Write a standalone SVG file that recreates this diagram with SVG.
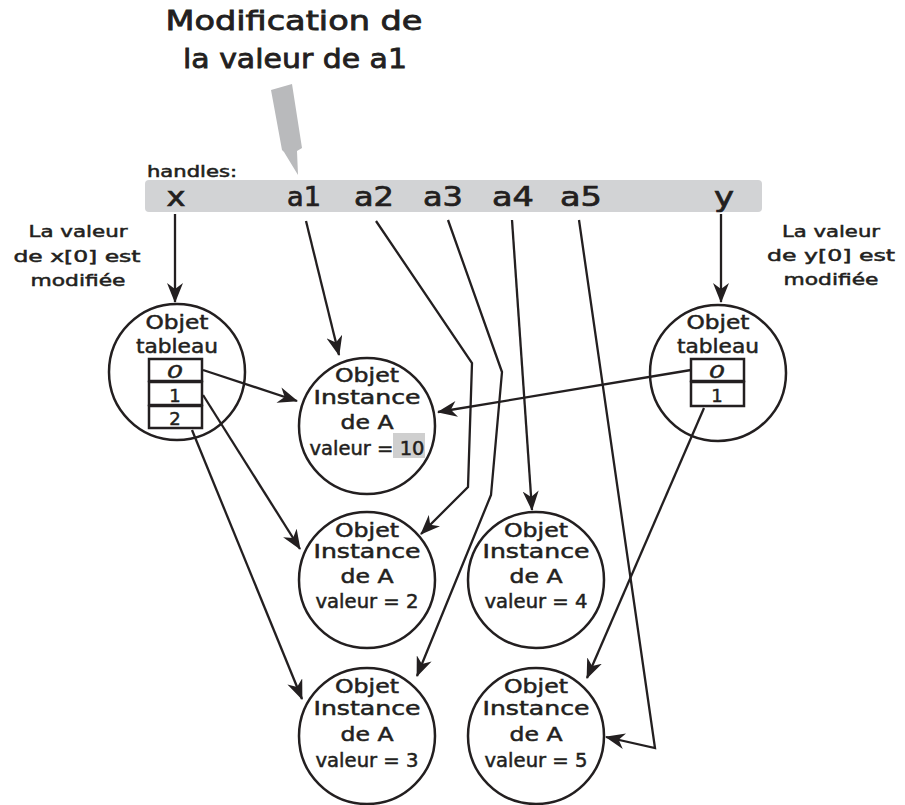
<svg xmlns="http://www.w3.org/2000/svg" width="905" height="805" viewBox="0 0 905 805">
<style>
.t{font-family:"DejaVu Sans","Liberation Sans",sans-serif;fill:#231f20;text-anchor:middle;stroke:#231f20;stroke-width:0.5}
.n{font-size:19px}
.s{font-size:16px}
.h{font-size:26px;stroke-width:0.7}
.ti{font-size:26px;stroke-width:0.8}
.d{font-size:18px}
.c{fill:#fff;stroke:#231f20;stroke-width:2.5}
.cell{fill:#fff;stroke:#231f20;stroke-width:2.5}
.e{fill:none;stroke:#231f20;stroke-width:2.3;stroke-linejoin:miter}
</style>
<defs>
<marker id="ah" viewBox="0 0 20 16" refX="19" refY="8" markerWidth="20" markerHeight="16" markerUnits="userSpaceOnUse" orient="auto">
<path d="M0,0 L20,8 L0,16 L6,8 z" fill="#231f20"/>
</marker>
</defs>
<rect width="905" height="805" fill="#fff"/>

<g id="title">
<text class="t ti" x="294" y="30" textLength="257" lengthAdjust="spacingAndGlyphs">Modification de</text>
<text class="t ti" x="295" y="68" textLength="224" lengthAdjust="spacingAndGlyphs">la valeur de a1</text>
<polygon points="271,90 292,84 302,148 297,151 298,175 284,152 282,150" fill="#b9babc"/>
</g>

<g id="handles">
<text class="t" x="147" y="177" font-size="15" style="text-anchor:start" textLength="90" lengthAdjust="spacingAndGlyphs">handles:</text>
<rect x="145" y="180" width="617" height="32" rx="4" fill="#d2d3d5"/>
<text class="t h" x="176" y="206" textLength="19" lengthAdjust="spacingAndGlyphs">x</text>
<text class="t h" x="304" y="206" textLength="34" lengthAdjust="spacingAndGlyphs">a1</text>
<text class="t h" x="374" y="206" textLength="40" lengthAdjust="spacingAndGlyphs">a2</text>
<text class="t h" x="443" y="206" textLength="40" lengthAdjust="spacingAndGlyphs">a3</text>
<text class="t h" x="513" y="206" textLength="42" lengthAdjust="spacingAndGlyphs">a4</text>
<text class="t h" x="581" y="206" textLength="42" lengthAdjust="spacingAndGlyphs">a5</text>
<text class="t h" x="724" y="206" textLength="20" lengthAdjust="spacingAndGlyphs">y</text>
</g>

<g id="noteX">
<text class="t s" x="78" y="237" textLength="99" lengthAdjust="spacingAndGlyphs">La valeur</text>
<text class="t s" x="77" y="262" textLength="127" lengthAdjust="spacingAndGlyphs">de x[0] est</text>
<text class="t s" x="78" y="286" textLength="95" lengthAdjust="spacingAndGlyphs">modifiée</text>
</g>
<g id="noteY">
<text class="t s" x="831" y="237" textLength="98" lengthAdjust="spacingAndGlyphs">La valeur</text>
<text class="t s" x="831" y="261" textLength="128" lengthAdjust="spacingAndGlyphs">de y[0] est</text>
<text class="t s" x="831" y="285" textLength="95" lengthAdjust="spacingAndGlyphs">modifiée</text>
</g>

<g id="tabX">
<circle class="c" cx="177" cy="372" r="68"/>
<text class="t n" x="177" y="329" textLength="63" lengthAdjust="spacingAndGlyphs">Objet</text>
<text class="t n" x="177" y="353" textLength="82" lengthAdjust="spacingAndGlyphs">tableau</text>
<rect class="cell" x="149" y="359" width="53" height="22"/>
<rect class="cell" x="149" y="382" width="53" height="23"/>
<rect class="cell" x="149" y="406" width="53" height="22"/>
<text class="t d" x="175" y="378" font-style="italic" textLength="16" lengthAdjust="spacingAndGlyphs">0</text>
<text class="t d" x="175" y="402">1</text>
<text class="t d" x="175" y="425">2</text>
</g>

<g id="tabY">
<circle class="c" cx="718" cy="373" r="68"/>
<text class="t n" x="718" y="329" textLength="63" lengthAdjust="spacingAndGlyphs">Objet</text>
<text class="t n" x="718" y="353" textLength="82" lengthAdjust="spacingAndGlyphs">tableau</text>
<rect class="cell" x="691" y="359" width="53" height="22"/>
<rect class="cell" x="691" y="382" width="53" height="24"/>
<text class="t d" x="717" y="378" font-style="italic" textLength="16" lengthAdjust="spacingAndGlyphs">0</text>
<text class="t d" x="717" y="402">1</text>
</g>

<g id="a10">
<circle class="c" cx="367" cy="426" r="68"/>
<rect x="393" y="433" width="32" height="25" fill="#cfcfcf"/>
<text class="t n" x="367" y="382" textLength="64" lengthAdjust="spacingAndGlyphs">Objet</text>
<text class="t n" x="367" y="404" textLength="107" lengthAdjust="spacingAndGlyphs">Instance</text>
<text class="t n" x="367" y="429" textLength="53" lengthAdjust="spacingAndGlyphs">de A</text>
<text class="t n" x="367" y="455" textLength="115" lengthAdjust="spacingAndGlyphs">valeur = 10</text>
</g>

<g id="a2">
<circle class="c" cx="367" cy="580" r="68"/>
<text class="t n" x="367" y="537" textLength="64" lengthAdjust="spacingAndGlyphs">Objet</text>
<text class="t n" x="367" y="558" textLength="107" lengthAdjust="spacingAndGlyphs">Instance</text>
<text class="t n" x="367" y="583" textLength="53" lengthAdjust="spacingAndGlyphs">de A</text>
<text class="t n" x="367" y="608" textLength="103" lengthAdjust="spacingAndGlyphs">valeur = 2</text>
</g>

<g id="a4">
<circle class="c" cx="536" cy="580" r="68"/>
<text class="t n" x="536" y="537" textLength="64" lengthAdjust="spacingAndGlyphs">Objet</text>
<text class="t n" x="536" y="558" textLength="107" lengthAdjust="spacingAndGlyphs">Instance</text>
<text class="t n" x="536" y="583" textLength="53" lengthAdjust="spacingAndGlyphs">de A</text>
<text class="t n" x="536" y="608" textLength="103" lengthAdjust="spacingAndGlyphs">valeur = 4</text>
</g>

<g id="a3">
<circle class="c" cx="367" cy="736" r="68"/>
<text class="t n" x="367" y="693" textLength="64" lengthAdjust="spacingAndGlyphs">Objet</text>
<text class="t n" x="367" y="715" textLength="107" lengthAdjust="spacingAndGlyphs">Instance</text>
<text class="t n" x="367" y="741" textLength="53" lengthAdjust="spacingAndGlyphs">de A</text>
<text class="t n" x="367" y="767" textLength="103" lengthAdjust="spacingAndGlyphs">valeur = 3</text>
</g>

<g id="a5">
<circle class="c" cx="536" cy="736" r="68"/>
<text class="t n" x="536" y="693" textLength="64" lengthAdjust="spacingAndGlyphs">Objet</text>
<text class="t n" x="536" y="715" textLength="107" lengthAdjust="spacingAndGlyphs">Instance</text>
<text class="t n" x="536" y="741" textLength="53" lengthAdjust="spacingAndGlyphs">de A</text>
<text class="t n" x="536" y="767" textLength="103" lengthAdjust="spacingAndGlyphs">valeur = 5</text>
</g>

<g id="connectors">
<path class="e" d="M175,214 L175,302" marker-end="url(#ah)"/>
<path class="e" d="M721,214 L721,302" marker-end="url(#ah)"/>
<path class="e" d="M306,221 L339,355" marker-end="url(#ah)"/>
<path class="e" d="M376,221 L472,363 L468,487 L421,534" marker-end="url(#ah)"/>
<path class="e" d="M448,220 L502,372 L491,495 L417,676" marker-end="url(#ah)"/>
<path class="e" d="M512,220 L532,510" marker-end="url(#ah)"/>
<path class="e" d="M579,220 L655,748 L606,737" marker-end="url(#ah)"/>
<path class="e" d="M203,370 L297,401" marker-end="url(#ah)"/>
<path class="e" d="M203,395 L300,549" marker-end="url(#ah)"/>
<path class="e" d="M192,430 L302,699" marker-end="url(#ah)"/>
<path class="e" d="M691,370 L438,412" marker-end="url(#ah)"/>
<path class="e" d="M704,408 L587,678" marker-end="url(#ah)"/>
</g>
</svg>
